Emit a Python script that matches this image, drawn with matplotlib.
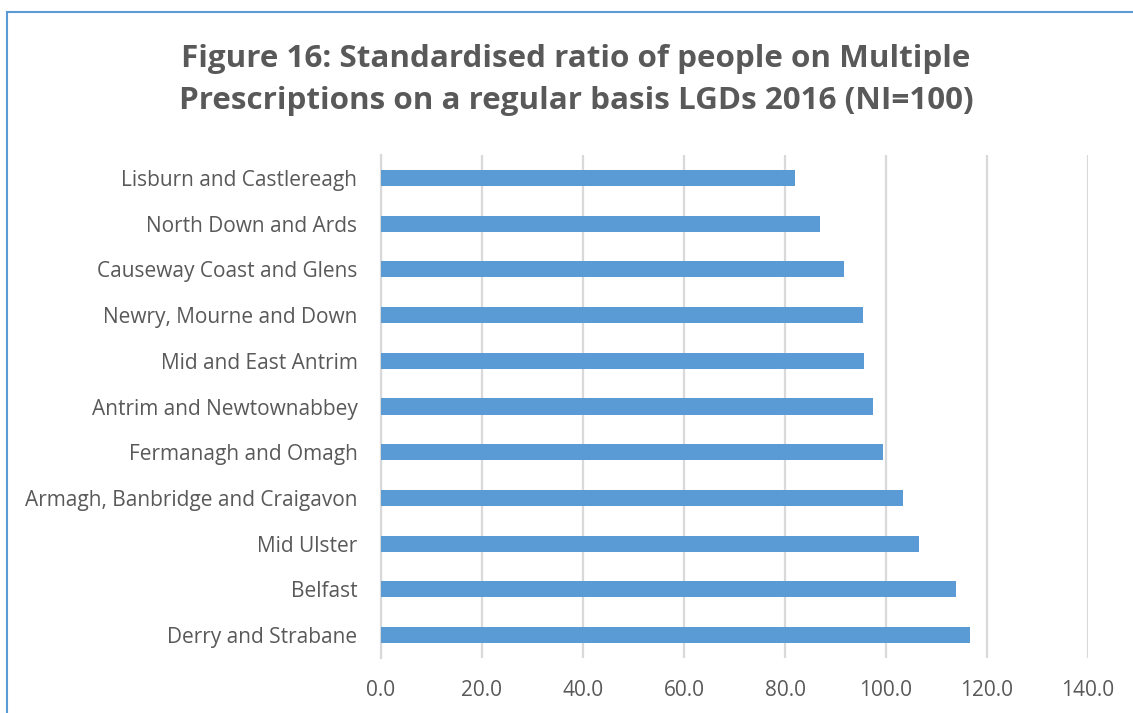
import matplotlib.pyplot as plt
from matplotlib.patches import Rectangle

districts = [
    "Lisburn and Castlereagh",
    "North Down and Ards",
    "Causeway Coast and Glens",
    "Newry, Mourne and Down",
    "Mid and East Antrim",
    "Antrim and Newtownabbey",
    "Fermanagh and Omagh",
    "Armagh, Banbridge and Craigavon",
    "Mid Ulster",
    "Belfast",
    "Derry and Strabane",
]
ratio = [81.9, 86.9, 91.6, 95.4, 95.6, 97.5, 99.4, 103.4, 106.5, 113.9, 116.6]
xticks = [0, 20, 40, 60, 80, 100, 120, 140]

text_col = "#595959"
grid_col = "#d9d9d9"
bar_col = "#5b9bd5"

plt.rcParams["font.family"] = ["Open Sans", "DejaVu Sans"]

fig = plt.figure(figsize=(11.33, 7.13), dpi=100)
ax = fig.add_axes([381 / 1133, 1 - 658 / 713, (1088 - 381) / 1133, (658 - 155) / 713])

# chart frame
fig.patches.append(Rectangle((7 / 1133, -0.1), 1.2, 1 - 12 / 713 + 0.1,
                             transform=fig.transFigure, fill=False,
                             edgecolor="#5b9bd5", linewidth=1.5))

pos = list(range(len(districts)))
ax.barh(pos, ratio, height=0.35, color=bar_col, zorder=3)
ax.set_ylim(len(districts) - 0.5, -0.5)
ax.set_xlim(0, 140)
ax.set_xticks(xticks)
ax.set_xticklabels([f"{v:.1f}" for v in xticks])
ax.set_yticks(pos)
ax.set_yticklabels(districts)
ax.grid(axis="x", color=grid_col, linewidth=1.6, zorder=0)
ax.set_axisbelow(True)
for side in ["top", "right", "bottom"]:
    ax.spines[side].set_visible(False)
ax.spines["left"].set_color(grid_col)
ax.spines["left"].set_linewidth(1.6)
ax.tick_params(axis="both", length=0, labelsize=15, colors=text_col)
ax.tick_params(axis="y", pad=17)
ax.tick_params(axis="x", pad=16)

fig.text(576 / 1133, 1 - 80 / 713,
         "Figure 16: Standardised ratio of people on Multiple\n"
         "Prescriptions on a regular basis LGDs 2016 (NI=100)",
         ha="center", va="center", fontsize=22.6, fontweight="bold",
         color=text_col, linespacing=1.5)

fig.savefig("out.png", dpi=100)
